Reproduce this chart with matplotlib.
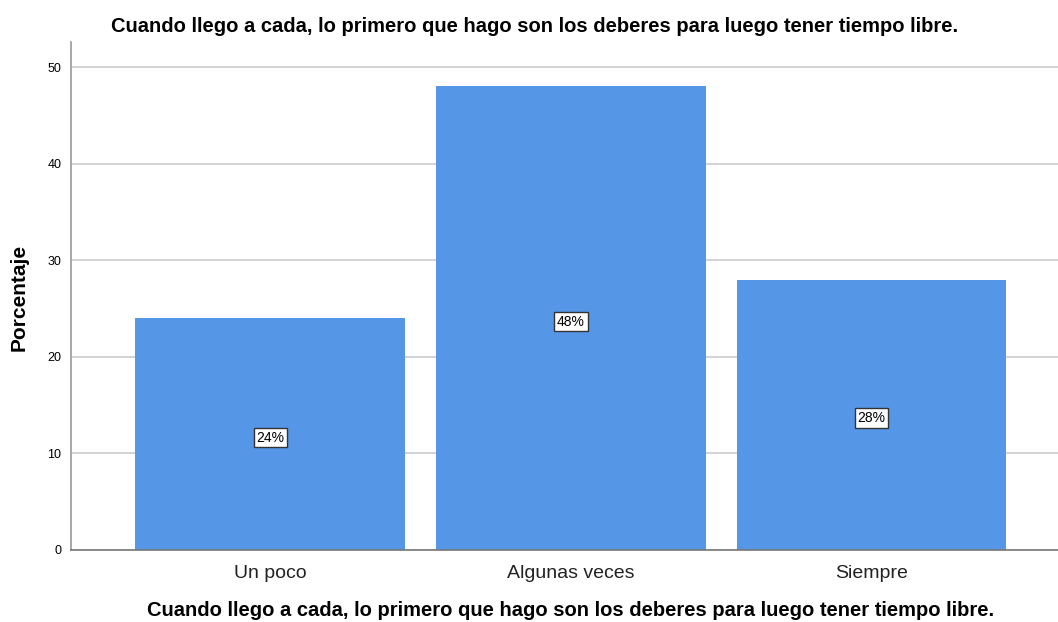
import matplotlib
matplotlib.use("Agg")
import matplotlib.pyplot as plt

categories = ["Un poco", "Algunas veces", "Siempre"]
percentages = [24, 48, 28]
yticks = [0, 10, 20, 30, 40, 50]
title = "Cuando llego a cada, lo primero que hago son los deberes para luego tener tiempo libre."

plt.rcParams['font.family'] = ['Liberation Sans', 'DejaVu Sans']

fig = plt.figure(figsize=(10.58, 6.22), dpi=100)
ax = fig.add_axes([71 / 1058, 72 / 622, 1 - 71 / 1058, 508 / 622])

x = list(range(len(categories)))
ax.bar(x, percentages, width=0.897, color='#5596e6', zorder=2)

for xi, v in zip(x, percentages):
    ax.annotate(f"{v}%", xy=(xi, v / 2), xytext=(0, -2.5), textcoords='offset points',
                ha='center', va='center', fontsize=10, color='black', zorder=3,
                bbox=dict(boxstyle='square,pad=0.2', facecolor='white', edgecolor='#333333', linewidth=1))

ax.set_xlim(-0.663, 2.62)
ax.set_ylim(0, 52.6)
ax.set_yticks(yticks)
ax.set_xticks(x)
ax.set_xticklabels(categories, fontsize=14, color='#222222')
ax.tick_params(axis='both', length=0)
ax.tick_params(axis='y', labelsize=9, pad=7)
ax.tick_params(axis='x', pad=11)
ax.yaxis.grid(True, color='#cccccc', linewidth=1.2, zorder=0)
ax.set_axisbelow(True)

for s in ['top', 'right']:
    ax.spines[s].set_visible(False)
ax.spines['left'].set_color('#999999')
ax.spines['left'].set_linewidth(1.2)
ax.spines['bottom'].set_color('#777777')
ax.spines['bottom'].set_linewidth(1.2)

fig.text(535 / 1058, 1 - 26 / 622, title, ha='center', va='center', fontsize=14.5, fontweight='bold')
fig.text(571 / 1058, 1 - 611 / 622, title, ha='center', va='center', fontsize=14.5, fontweight='bold')
fig.text(19 / 1058, 1 - 297 / 622, "Porcentaje", ha='center', va='center', rotation=90,
         fontsize=15, fontweight='bold')

fig.savefig("out.png", dpi=100)
